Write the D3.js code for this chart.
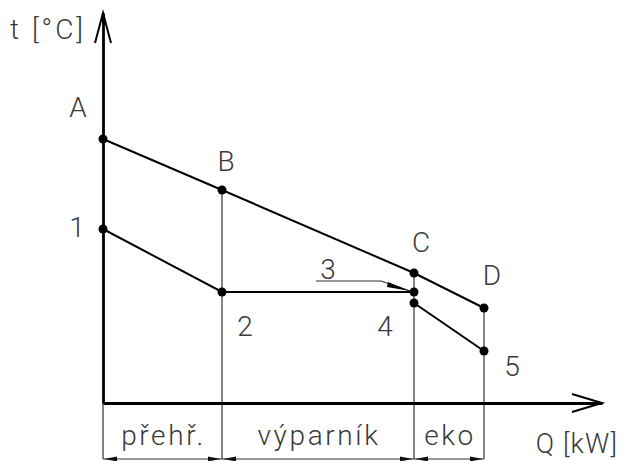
<!DOCTYPE html>
<html>
<head>
<meta charset="utf-8">
<script src="https://cdn.jsdelivr.net/npm/d3@7/dist/d3.min.js"></script>
<style>
  html, body { margin: 0; padding: 0; background: #fff; }
  svg text { font-family: Roboto, "Open Sans", "DejaVu Sans", sans-serif; font-weight: 300; fill: #3a3a3a; }
</style>
</head>
<body>
<svg id="chart" width="624" height="461"></svg>
<script>
// Heat-exchanger t–Q diagram: flue gas (A–D) vs. water/steam (1–5)
const hotLabels = ["A", "B", "C", "D"];
const hotQ = [0, 119, 311, 381];
const hotT = [264, 213, 130, 95];

const coldLabels = ["1", "2", "3", "4", "5"];
const coldQ = [0, 119, 311, 311, 381];
const coldT = [174, 111, 111, 100, 52];

const zoneNames = ["přehř.", "výparník", "eko"];
const zoneBounds = [0, 119, 311, 381];

const xTitle = "Q [kW]";
const yTitle = "t [°C]";

const svg = d3.select("#chart");
const x = d3.scaleLinear().domain([0, 499]).range([103, 602]);
const y = d3.scaleLinear().domain([0, 390]).range([403, 13]);
const bottomY = 459;

// zone boundary verticals (thin)
const vLines = svg.append("g").attr("stroke", "#333").attr("stroke-width", 1.2);
zoneBounds.slice(1).forEach((q, i) => {
  const top = i === 0 ? hotT[1] : i === 1 ? hotT[2] : hotT[3];
  vLines.append("line")
    .attr("x1", x(q)).attr("x2", x(q))
    .attr("y1", y(top)).attr("y2", bottomY);
});
vLines.append("line").attr("x1", x(0)).attr("x2", x(0)).attr("y1", y(0)).attr("y2", bottomY);

// dimension line under the zones with arrowheads at each boundary
svg.append("line")
  .attr("x1", x(zoneBounds[0])).attr("x2", x(zoneBounds[zoneBounds.length - 1]))
  .attr("y1", bottomY).attr("y2", bottomY)
  .attr("stroke", "#333").attr("stroke-width", 1.2);
const dimArrow = (tipX, dir) => {
  const len = 13, hw = 2.4;
  svg.append("path")
    .attr("d", `M${tipX},${bottomY} L${tipX - dir * len},${bottomY - hw} L${tipX - dir * len},${bottomY + hw} Z`)
    .attr("fill", "#111");
};
for (let i = 0; i < zoneBounds.length - 1; i++) {
  dimArrow(x(zoneBounds[i]) + 1, -1);
  dimArrow(x(zoneBounds[i + 1]) - 1, 1);
}

// zone names
zoneNames.forEach((name, i) => {
  svg.append("text")
    .attr("x", (x(zoneBounds[i]) + x(zoneBounds[i + 1])) / 2 + 1)
    .attr("y", 445)
    .attr("text-anchor", "middle")
    .attr("font-size", 28)
    .attr("letter-spacing", 2.6)
    .text(name);
});

// axes (no ticks), with open arrowheads
svg.append("g").attr("transform", `translate(0,${y(0)})`)
  .call(d3.axisBottom(x).tickValues([]).tickSizeOuter(0))
  .call(g => g.select(".domain").attr("stroke", "#000").attr("stroke-width", 2.8));
svg.append("g").attr("transform", `translate(${x(0)},0)`)
  .call(d3.axisLeft(y).tickValues([]).tickSizeOuter(0))
  .call(g => g.select(".domain").attr("stroke", "#000").attr("stroke-width", 2.8));

svg.append("path")
  .attr("d", `M${x(499) - 30},${y(0) - 9} L${x(499)},${y(0)} L${x(499) - 30},${y(0) + 9}`)
  .attr("fill", "none").attr("stroke", "#000").attr("stroke-width", 2);
svg.append("path")
  .attr("d", `M${x(0) - 8},${y(390) + 30} L${x(0)},${y(390)} L${x(0) + 8},${y(390) + 30}`)
  .attr("fill", "none").attr("stroke", "#000").attr("stroke-width", 2);

// axis titles
svg.append("text").attr("x", 48).attr("y", 39).attr("text-anchor", "middle")
  .attr("font-size", 28).attr("letter-spacing", 3).text(yTitle);
svg.append("text").attr("x", 577).attr("y", 453).attr("text-anchor", "middle")
  .attr("font-size", 27).attr("letter-spacing", 1.2).text(xTitle);

// temperature profiles
const line = d3.line().x(d => x(d[0])).y(d => y(d[1]));
const hotPts = hotQ.map((q, i) => [q, hotT[i]]);
const coldPts = coldQ.map((q, i) => [q, coldT[i]]);
svg.append("path").attr("d", line(hotPts))
  .attr("fill", "none").attr("stroke", "#000").attr("stroke-width", 2);
svg.append("path").attr("d", line(coldPts.slice(0, 3)))
  .attr("fill", "none").attr("stroke", "#000").attr("stroke-width", 2);
svg.append("path").attr("d", line(coldPts.slice(3)))
  .attr("fill", "none").attr("stroke", "#000").attr("stroke-width", 2);

// leader for point 3
const p3 = coldPts[2];
svg.append("path")
  .attr("d", `M316,281 L381,281 L${x(p3[0]) - 4},${y(p3[1]) - 1}`)
  .attr("fill", "none").attr("stroke", "#333").attr("stroke-width", 1.2);
svg.append("path")
  .attr("d", `M${x(p3[0]) - 4},${y(p3[1]) - 1} L${x(p3[0]) - 26},${y(p3[1]) - 10} L${x(p3[0]) - 27},${y(p3[1]) - 5} Z`)
  .attr("fill", "#000");

// points
svg.append("g").selectAll("circle")
  .data(hotPts.concat(coldPts))
  .join("circle")
  .attr("cx", d => x(d[0])).attr("cy", d => y(d[1])).attr("r", 4.5).attr("fill", "#000");

// point labels
const hotOffsets = [[-25, -22], [4, -19], [7, -21], [8, -23]];
const coldOffsets = [[-26, 8], [23, 44], [-86, -13], [-29, 33], [28, 25]];
const labelFont = 28;
hotLabels.forEach((t, i) => {
  svg.append("text")
    .attr("x", x(hotPts[i][0]) + hotOffsets[i][0])
    .attr("y", y(hotPts[i][1]) + hotOffsets[i][1])
    .attr("text-anchor", "middle").attr("font-size", labelFont).text(t);
});
coldLabels.forEach((t, i) => {
  svg.append("text")
    .attr("x", x(coldPts[i][0]) + coldOffsets[i][0])
    .attr("y", y(coldPts[i][1]) + coldOffsets[i][1])
    .attr("text-anchor", "middle").attr("font-size", labelFont).text(t);
});
</script>
</body>
</html>
